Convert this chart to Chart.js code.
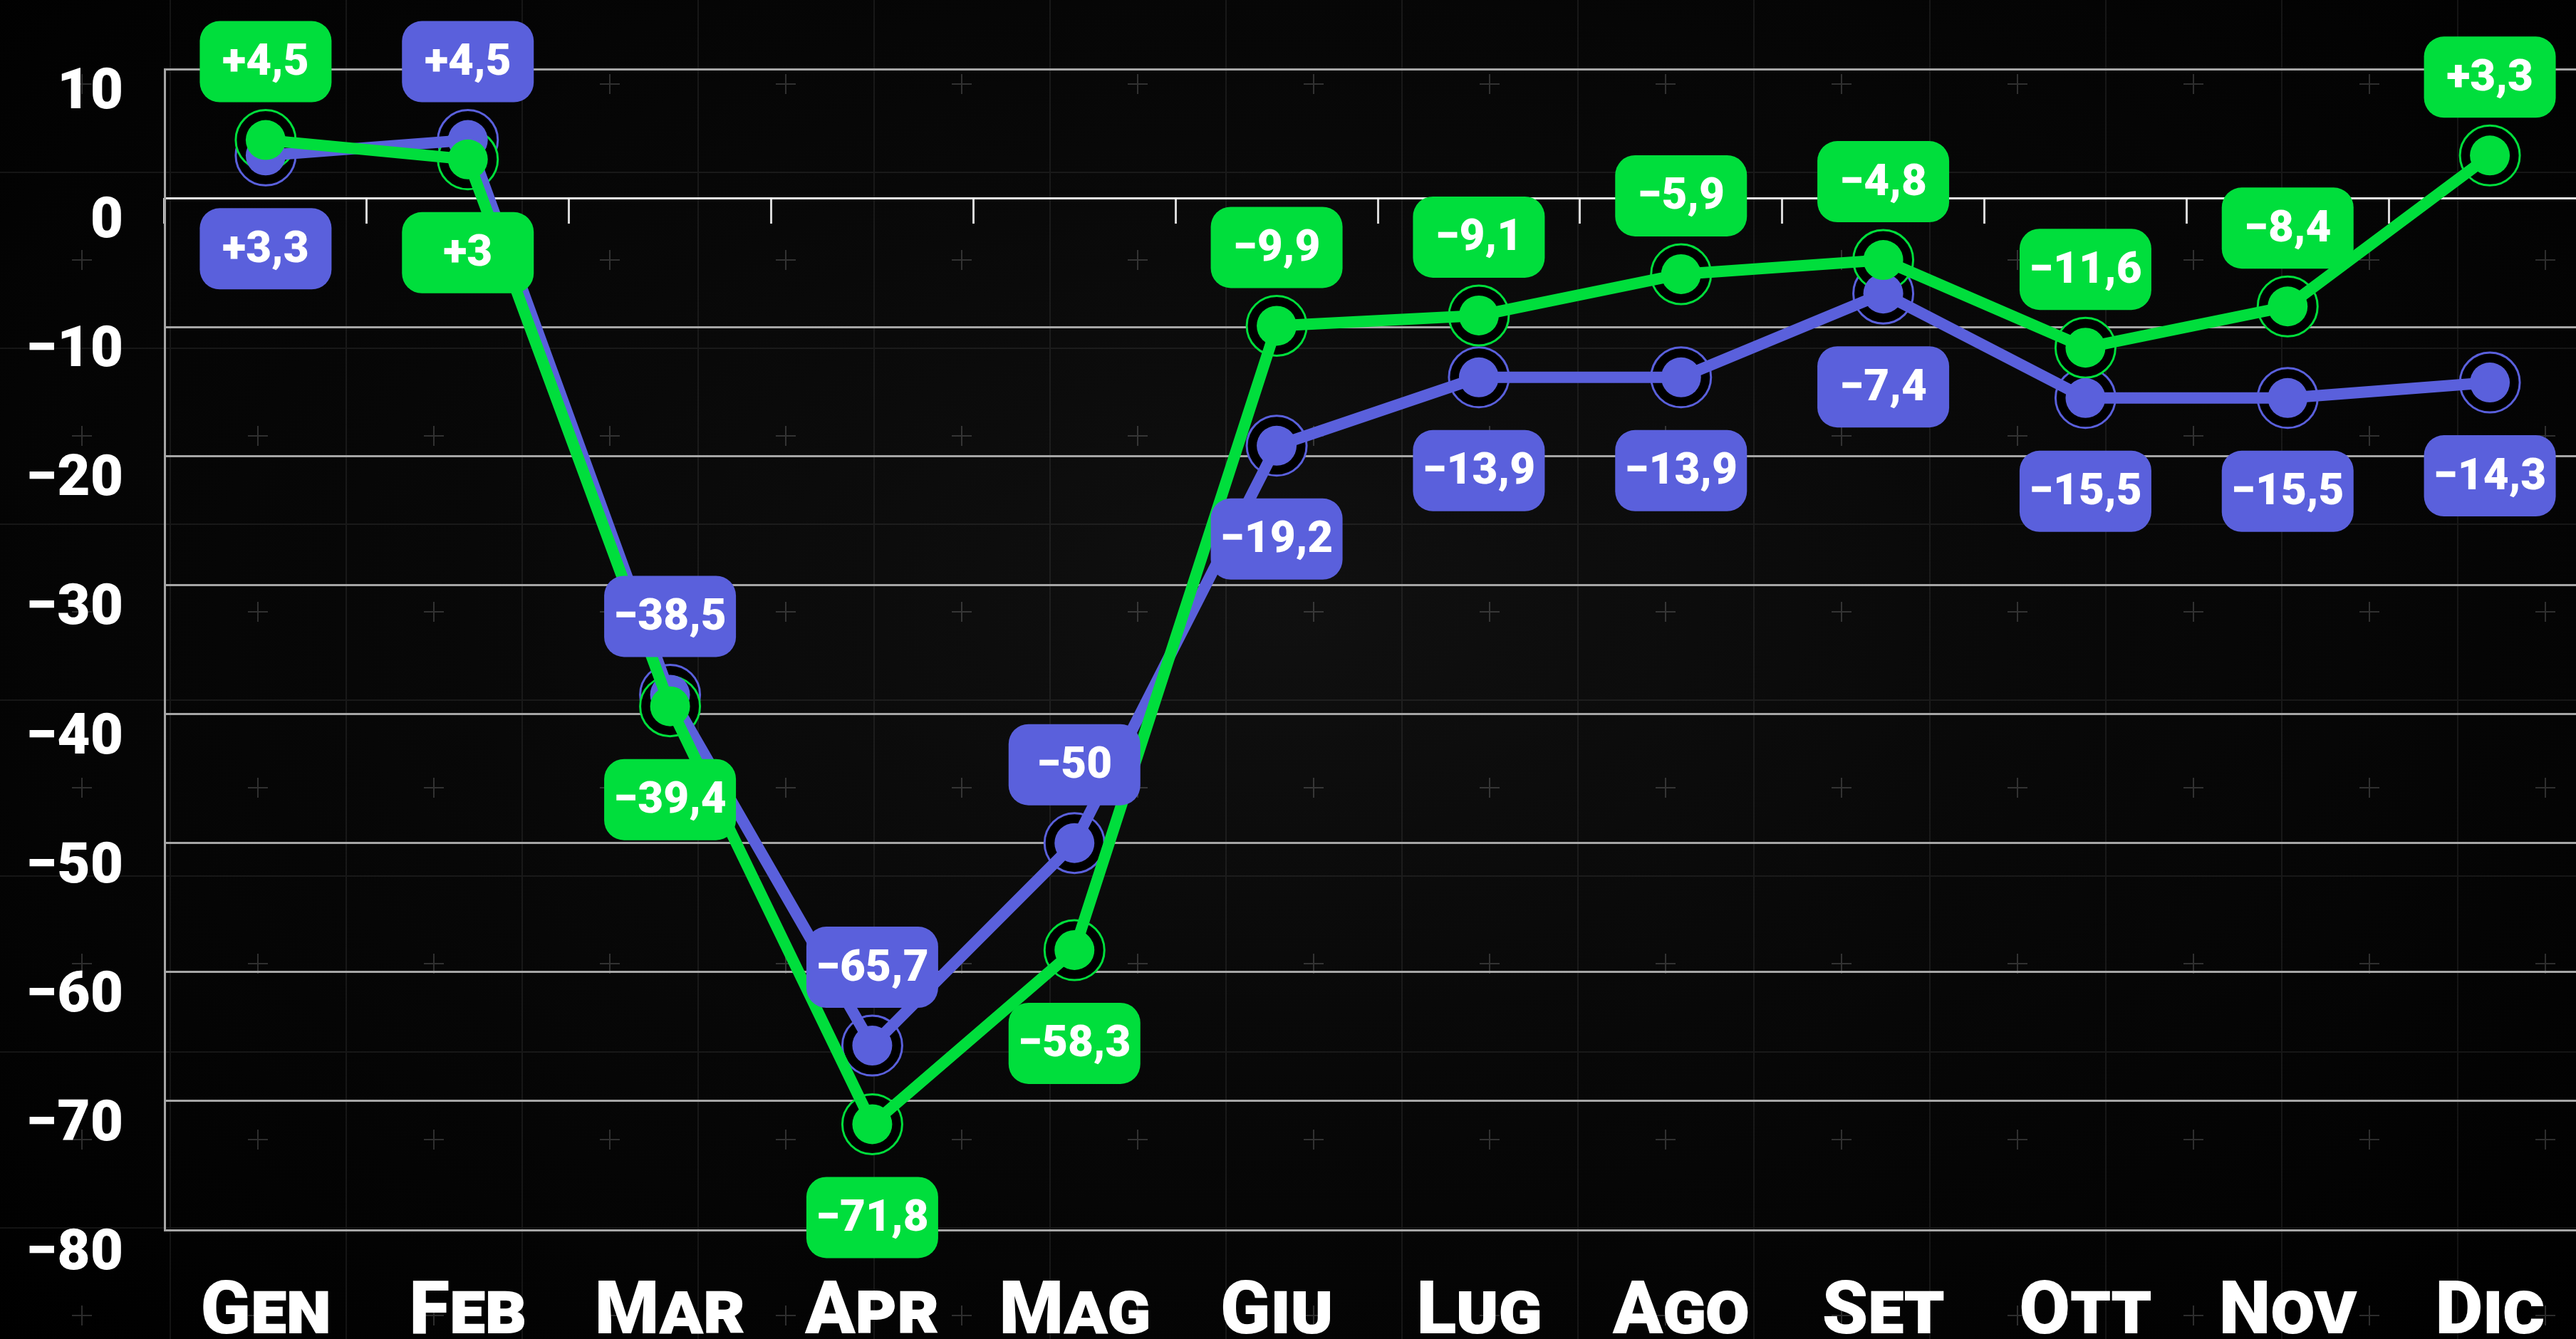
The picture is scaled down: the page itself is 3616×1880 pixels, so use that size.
<!DOCTYPE html>
<html>
<head>
<meta charset="utf-8">
<script src="https://cdn.jsdelivr.net/npm/chart.js@4.4.1/dist/chart.umd.min.js"></script>
<style>
html, body { margin: 0; padding: 0; width: 3616px; height: 1880px; overflow: hidden; background-color: #000; }
#wrap { position: relative; width: 3682px; height: 1880px; }
</style>
</head>
<body>
<div id="wrap"><canvas id="chart-area"></canvas></div>
<script>
// data
var months = ['Gen', 'Feb', 'Mar', 'Apr', 'Mag', 'Giu', 'Lug', 'Ago', 'Set', 'Ott', 'Nov', 'Dic'];
var greenValues = [4.5, 3, -39.4, -71.8, -58.3, -9.9, -9.1, -5.9, -4.8, -11.6, -8.4, 3.3];
var blueValues = [3.3, 4.5, -38.5, -65.7, -50, -19.2, -13.9, -13.9, -7.4, -15.5, -15.5, -14.3];
var yTickValues = [-80, -70, -60, -50, -40, -30, -20, -10, 0, 10];

var GREEN = '#00de3c';
var BLUE = '#5a60dc';
var FONT = "Roboto, 'Open Sans', sans-serif";

// faint background grid with little crosses
var tile = "<svg xmlns='http://www.w3.org/2000/svg' width='247' height='247'>" +
	"<path d='M1 0V247M0 1H247' stroke='rgba(255,255,255,0.07)' stroke-width='2'/>" +
	"<path d='M124 110V138M110 124H138' stroke='rgba(255,255,255,0.17)' stroke-width='2'/></svg>";
document.body.style.background =
	"url(\"data:image/svg+xml," + encodeURIComponent(tile) + "\") 238px 241px / 247px 247px repeat, " +
	"radial-gradient(ellipse at 50% 45%, #101010 0%, #080808 45%, #000 100%)";

function fmtValue(v)
{
	var s = String(Math.abs(v)).replace('.', ',');
	if (v > 0) return '+' + s;
	if (v < 0) return '\u2212' + s;
	return s;
}

function fmtAxis(v)
{
	return v < 0 ? '\u2212' + Math.abs(v) : String(v);
}

function boxPath(ctx, x, y, w, h, r)
{
	ctx.beginPath();
	ctx.moveTo(x + r, y);
	ctx.arcTo(x + w, y, x + w, y + h, r);
	ctx.arcTo(x + w, y + h, x, y + h, r);
	ctx.arcTo(x, y + h, x, y, r);
	ctx.arcTo(x, y, x + w, y, r);
	ctx.closePath();
}

// rounded value boxes: higher series label above its point, the other below
var valueBoxes = {
	id: 'valueBoxes',
	afterDatasetsDraw: function (chart)
	{
		var ctx = chart.ctx;
		var metaG = chart.getDatasetMeta(0);
		var metaB = chart.getDatasetMeta(1);
		var w = 185, h = 114;

		function drawBox(pt, value, color, above)
		{
			var cy = above ? pt.y - 110 : pt.y + 131;
			ctx.save();
			ctx.fillStyle = color;
			boxPath(ctx, pt.x - w / 2, cy - h / 2, w, h, 28);
			ctx.fill();
			ctx.fillStyle = '#ffffff';
			ctx.font = '900 62px ' + FONT;
			ctx.textAlign = 'center';
			ctx.textBaseline = 'middle';
			ctx.fillText(fmtValue(value), pt.x, cy + 3);
			ctx.restore();
		}

		for (var i = 0; i < months.length; i++)
		{
			var gUp = greenValues[i] >= blueValues[i];
			drawBox(metaB.data[i], blueValues[i], BLUE, !gUp);
			drawBox(metaG.data[i], greenValues[i], GREEN, gUp);
		}
	}
};

var config = {
	type: 'line',
	data: {
		labels: months,
		datasets: [{
			data: greenValues,
			borderColor: GREEN,
			backgroundColor: GREEN,
			borderWidth: 16,
			pointRadius: 28,
			pointBorderWidth: 0,
			pointBackgroundColor: GREEN,
			tension: 0,
			clip: false
		}, {
			data: blueValues,
			borderColor: BLUE,
			backgroundColor: BLUE,
			borderWidth: 16,
			pointRadius: 28,
			pointBorderWidth: 0,
			pointBackgroundColor: BLUE,
			tension: 0,
			clip: false
		}, {
			// ring + dark halo under each green point
			data: greenValues,
			showLine: false,
			pointRadius: 42,
			pointBorderWidth: 3,
			pointBorderColor: GREEN,
			pointBackgroundColor: '#000',
			clip: false
		}, {
			data: blueValues,
			showLine: false,
			pointRadius: 42,
			pointBorderWidth: 3,
			pointBorderColor: BLUE,
			pointBackgroundColor: '#000',
			clip: false
		}]
	},
	options: {
		responsive: true,
		maintainAspectRatio: false,
		animation: false,
		layout: { padding: { top: 97, right: 0, bottom: 0, left: 0 } },
		plugins: {
			legend: { display: false },
			tooltip: { enabled: false }
		},
		scales: {
			x: {
				type: 'category',
				offset: true,
				grid: { display: false, drawTicks: false },
				border: { display: false },
				afterFit: function (scale) { scale.height = 153; },
				ticks: {
					color: '#ffffff',
					padding: 57,
					maxRotation: 0,
					autoSkip: false,
					font: { family: FONT, size: 104, weight: 'small-caps 900', lineHeight: 1.2 }
				}
			},
			x0: {
				type: 'category',
				position: { y: 0 },
				offset: true,
				grid: { offset: true, drawOnChartArea: false, drawTicks: true, tickLength: 36, tickWidth: 3, tickColor: '#d8d8d8' },
				border: { display: false },
				ticks: { display: false }
			},
			y: {
				min: yTickValues[0],
				max: yTickValues[yTickValues.length - 1],
				afterBuildTicks: function (scale)
				{
					scale.ticks = yTickValues.map(function (v) { return { value: v }; });
				},
				afterFit: function (scale)
				{
					scale.width = 231;
					scale.paddingTop = 0;
				},
				grid: {
					drawTicks: false,
					lineWidth: 3,
					color: function (c) { return c.tick && c.tick.value === 0 ? '#f0f0f0' : '#a6a6a6'; }
				},
				border: { display: true, color: '#a6a6a6', width: 3 },
				ticks: {
					color: '#ffffff',
					padding: 58,
					labelOffset: 35,
					font: { family: FONT, size: 80, weight: '900' },
					callback: function (v) { return fmtAxis(v); }
				}
			}
		}
	},
	plugins: [valueBoxes]
};

var ctx = document.getElementById('chart-area');
var myChart = new Chart(ctx, config);
</script>
</body>
</html>
